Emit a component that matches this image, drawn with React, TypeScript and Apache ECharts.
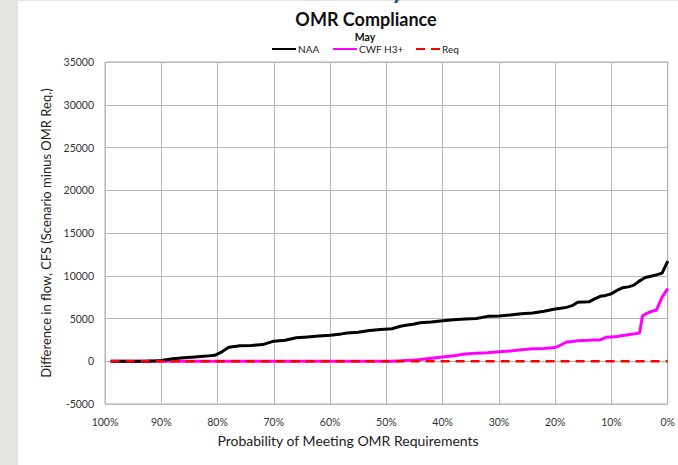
import React, { useEffect, useRef } from "react";
import * as echarts from "echarts";

const probabilities = [
  99, 97, 95, 93, 91, 90, 88, 86, 84, 82, 80.5, 79.5, 78, 76, 74, 72, 70, 68, 66, 64,
  62, 60, 58, 57, 55, 53, 51, 49, 47.5, 46.5, 45, 44, 42, 40, 38, 36, 34, 32, 30, 28,
  26, 24, 22, 20, 19, 18, 17, 16, 14, 13, 12, 11, 10, 9, 8, 7, 6, 5, 4.5, 4, 3, 2, 1, 0,
];

const naaValues = [
  0, 0, 0, 0, 50, 100, 300, 400, 500, 600, 700, 1000, 1650, 1800, 1850, 1950, 2350, 2450, 2750, 2850,
  2950, 3050, 3200, 3300, 3400, 3600, 3700, 3800, 4100, 4200, 4350, 4500, 4600, 4750, 4850, 4950, 5000, 5250, 5300, 5400,
  5550, 5650, 5850, 6100, 6200, 6300, 6500, 6900, 6950, 7300, 7600, 7700, 7900, 8300, 8600, 8700, 8900, 9400, 9600, 9800, 9950, 10100, 10300, 11700,
];

const cwfValues = [
  0, 0, 0, 0, 0, 0, 0, 0, 0, 0, 0, 0, 0, 0, 0, 0, 0, 0, 0, 0,
  0, 0, 0, 0, 0, 0, 0, 0, 50, 100, 150, 200, 350, 500, 650, 850, 950, 1000, 1100, 1200,
  1350, 1450, 1500, 1600, 1900, 2250, 2300, 2400, 2450, 2500, 2500, 2800, 2850, 2900, 3000, 3100, 3200, 3300, 5300, 5500, 5800, 6000, 7500, 8500,
];

const reqValues = probabilities.map(() => 0);

const seriesNames = ["NAA", "CWF H3+", "Req"];
const titleText = "OMR Compliance";
const subTitleText = "May";
const yAxisTitle = "Difference in flow, CFS (Scenario minus OMR Req.)";
const xAxisTitle = "Probability of Meeting OMR Requirements";

const FONT = "Lato, 'Open Sans', sans-serif";

export default function App() {
  const ref = useRef<HTMLDivElement>(null);
  useEffect(() => {
    if (!ref.current) return;
    const chart = echarts.init(ref.current, null, { renderer: "svg" });
    const pairs = (vals: number[]) => probabilities.map((p, i) => [p, vals[i]]);
    const legendBase = {
      top: 39,
      itemWidth: 24,
      itemHeight: 8,
      itemGap: 0,
      itemStyle: { opacity: 0 },
      textStyle: { fontFamily: FONT, fontSize: 10, color: "#222", padding: [0, 0, 0, -3] },
      selectedMode: false,
    };
    chart.setOption({
      animation: false,
      backgroundColor: "#ffffff",
      textStyle: { fontFamily: FONT },
      title: [
        {
          text: titleText,
          left: 361,
          top: 5,
          textAlign: "center",
          textStyle: { fontFamily: FONT, fontSize: 18, fontWeight: "bold", color: "#111" },
        },
        {
          text: subTitleText,
          left: 360,
          top: 26,
          textAlign: "center",
          textStyle: { fontFamily: FONT, fontSize: 10.5, fontWeight: "bold", color: "#111" },
        },
      ],
      legend: [
        { ...legendBase, left: 266, data: [seriesNames[0]] },
        { ...legendBase, left: 327, data: [seriesNames[1]] },
        { ...legendBase, left: 410, data: [seriesNames[2]] },
      ],
      grid: {
        left: 105,
        right: 9,
        top: 62,
        bottom: 61,
        show: true,
        borderColor: "#b0b0b0",
        borderWidth: 1,
      },
      xAxis: {
        type: "value",
        min: 0,
        max: 100,
        interval: 10,
        inverse: true,
        axisLine: { show: true, lineStyle: { color: "#b0b0b0" } },
        axisTick: { show: false },
        splitLine: { show: true, lineStyle: { color: "#b8b8b8", width: 1 } },
        axisLabel: {
          formatter: (v: number) => `${v}%`,
          fontFamily: FONT,
          fontSize: 10.5,
          color: "#333",
          margin: 12,
        },
      },
      yAxis: {
        type: "value",
        min: -5000,
        max: 35000,
        interval: 5000,
        name: yAxisTitle,
        nameLocation: "middle",
        nameGap: 48,
        nameTextStyle: { fontFamily: FONT, fontSize: 13, color: "#222" },
        axisLine: { show: true, lineStyle: { color: "#b0b0b0" } },
        axisTick: { show: false },
        splitLine: { show: true, lineStyle: { color: "#b8b8b8", width: 1 } },
        axisLabel: {
          formatter: (v: number) => String(v),
          fontFamily: FONT,
          fontSize: 10.5,
          color: "#333",
          margin: 11,
        },
      },
      graphic: [
        { type: "rect", shape: { x: 0, y: 0, width: 18, height: 465 }, style: { fill: "#e4e4e1" } },
        { type: "rect", shape: { x: 18, y: 0, width: 660, height: 1 }, style: { fill: "#e6e6e6" } },
        {
          type: "text",
          x: 391,
          y: -24,
          style: { text: "y", fill: "#1d5a78", font: `bold 26px ${FONT}` },
        },
        {
          type: "text",
          x: 348,
          y: 440,
          style: {
            text: xAxisTitle,
            fill: "#222",
            font: `14px ${FONT}`,
            align: "center",
            verticalAlign: "middle",
          },
        },
      ],
      series: [
        {
          name: seriesNames[0],
          type: "line",
          data: pairs(naaValues),
          symbol: "none",
          lineStyle: { color: "#000000", width: 3 },
          itemStyle: { color: "#000000" },
          z: 3,
        },
        {
          name: seriesNames[1],
          type: "line",
          data: pairs(cwfValues),
          symbol: "none",
          lineStyle: { color: "#ff00ff", width: 3 },
          itemStyle: { color: "#ff00ff" },
          z: 2,
        },
        {
          name: seriesNames[2],
          type: "line",
          data: pairs(reqValues),
          symbol: "none",
          lineStyle: { color: "#ff0000", width: 2.5, type: [9, 6] },
          itemStyle: { color: "#ff0000" },
          z: 4,
        },
      ],
    });
    return () => chart.dispose();
  }, []);
  return (
    <div
      ref={ref}
      style={{ position: "fixed", left: 0, top: 0, width: 678, height: 465 }}
    />
  );
}
